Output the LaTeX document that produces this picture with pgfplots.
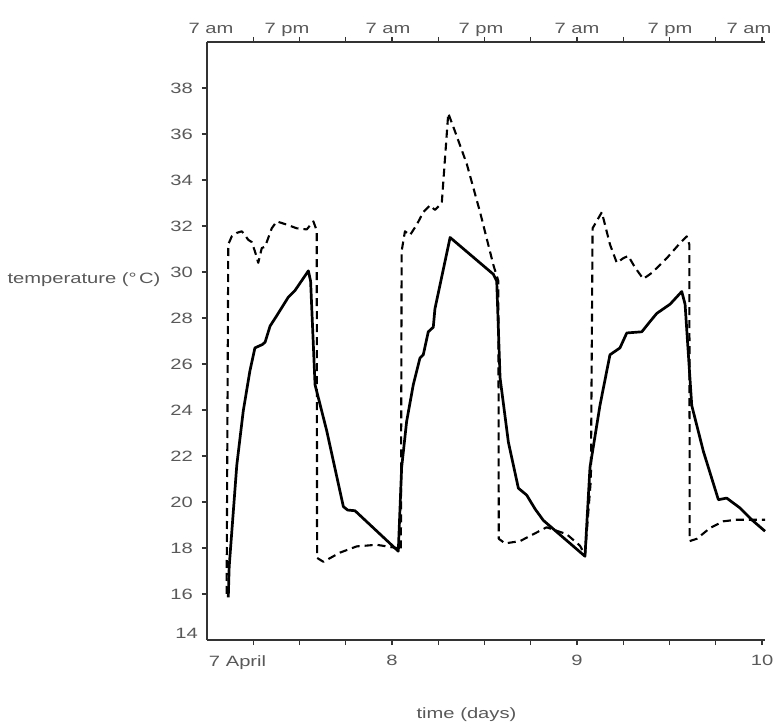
\documentclass[border=0pt]{standalone}
\usepackage{fontspec}
\setmainfont{Liberation Sans}[FakeStretch=1.35]
\usepackage{pgfplots}
\pgfplotsset{compat=1.18}
\tikzset{lab/.style={font=\fontsize{15}{17}\selectfont, text=black!65}}
\begin{document}
\begin{tikzpicture}
\begin{axis}[
  name=main,
  width=558bp, height=598bp, scale only axis,
  xmin=7, xmax=10.016, ymin=14, ymax=40,
  axis x line*=box, axis y line*=left,
  axis line style={-, black!80, line width=1.4bp},
  every outer y axis line/.append style={-},
  tick align=outside,
  major tick length=5bp,
  tick style={black!80, line width=1.1bp},
  xtick={7.25,7.5,7.75,8,8.25,8.5,8.75,9,9.25,9.5,9.75,10},
  xticklabels={},
  extra x ticks={7,8,9,10},
  extra x tick labels={\makebox[0pt][l]{\hspace{2bp}7 April},8,9,10},
  extra x tick style={major tick length=0pt},
  ytick={16,18,...,38},
  extra y ticks={14.3},
  extra y tick labels={14},
  extra y tick style={major tick length=0pt},
  /pgf/number format/assume math mode=true,
  tick label style={lab, inner sep=0pt},
  xticklabel style={anchor=north, yshift=-15bp},
  yticklabel style={anchor=east, xshift=-9bp},
  ylabel={temperature (°\,C)},
  ylabel style={lab, rotate=-90, at={(axis description cs:0,0.602)}, anchor=east, xshift=-43bp},
  xlabel={time (days)},
  xlabel style={lab, at={(axis description cs:0.465,0)}, anchor=center, yshift=-75bp},
  clip=false,
]
\addplot[black, line width=2.7bp, line join=round] table {
x y
7.115 15.85
7.120 17.2
7.134 18.7
7.161 21.6
7.196 23.96
7.232 25.7
7.259 26.7
7.300 26.85
7.314 26.95
7.341 27.65
7.377 28.1
7.439 28.9
7.476 29.2
7.548 30.05
7.560 29.6
7.584 25.1
7.647 23.1
7.737 19.8
7.760 19.65
7.800 19.62
8.034 17.86
8.052 21.5
8.079 23.5
8.115 25.1
8.151 26.26
8.169 26.4
8.196 27.4
8.223 27.6
8.232 28.4
8.314 31.5
8.548 29.9
8.566 29.6
8.584 25.4
8.629 22.6
8.683 20.6
8.728 20.3
8.773 19.7
8.818 19.2
9.043 17.64
9.070 21.5
9.124 24.2
9.178 26.4
9.232 26.7
9.269 27.35
9.350 27.4
9.395 27.85
9.431 28.2
9.503 28.6
9.566 29.15
9.584 28.6
9.620 24.2
9.683 22.2
9.764 20.1
9.809 20.17
9.881 19.74
9.944 19.23
10.016 18.73
};
\addplot[black, line width=2.1bp, dash pattern=on 8bp off 5bp, line join=round] table {
x y
7.106 16.0
7.115 31.2
7.134 31.55
7.161 31.7
7.188 31.77
7.205 31.6
7.223 31.4
7.242 31.3
7.259 30.9
7.277 30.4
7.296 31.04
7.314 31.1
7.350 31.9
7.377 32.2
7.431 32.06
7.485 31.9
7.539 31.85
7.575 32.2
7.593 31.8
7.595 17.57
7.629 17.4
7.719 17.8
7.809 18.07
7.917 18.14
8.025 18.0
8.048 17.9
8.052 30.9
8.070 31.77
8.097 31.6
8.134 32.06
8.169 32.6
8.205 32.9
8.232 32.7
8.269 33.0
8.304 36.9
8.341 36.1
8.404 34.7
8.476 32.6
8.548 30.3
8.575 29.6
8.577 18.4
8.611 18.2
8.692 18.3
8.764 18.6
8.836 18.9
8.944 18.6
9.016 18.1
9.043 17.7
9.075 21.0
9.084 31.9
9.134 32.6
9.178 31.2
9.215 30.4
9.250 30.6
9.277 30.7
9.313 30.2
9.358 29.7
9.404 29.96
9.485 30.6
9.557 31.26
9.593 31.55
9.607 31.2
9.609 18.3
9.647 18.4
9.719 18.87
9.791 19.16
9.863 19.23
10.016 19.23
};
\end{axis}
\begin{axis}[
  width=558bp, height=598bp, scale only axis,
  xmin=7, xmax=10.016, ymin=14, ymax=40,
  axis x line*=top, axis y line=none,
  x axis line style={draw=none},
  xtick={7.022,7.432,7.978,8.481,9.0,9.503,9.93},
  xticklabels={7 am,7 pm,7 am,7 pm,7 am,7 pm,7 am},
  xtick style={draw=none},
  tick label style={lab, inner sep=0pt},
  xticklabel style={anchor=base, yshift=8bp},
]
\end{axis}
\pgfresetboundingbox
\useasboundingbox ([shift={(-207bp,-86bp)}]main.south west) rectangle ([shift={(569bp,640bp)}]main.south west);
\end{tikzpicture}
\end{document}
